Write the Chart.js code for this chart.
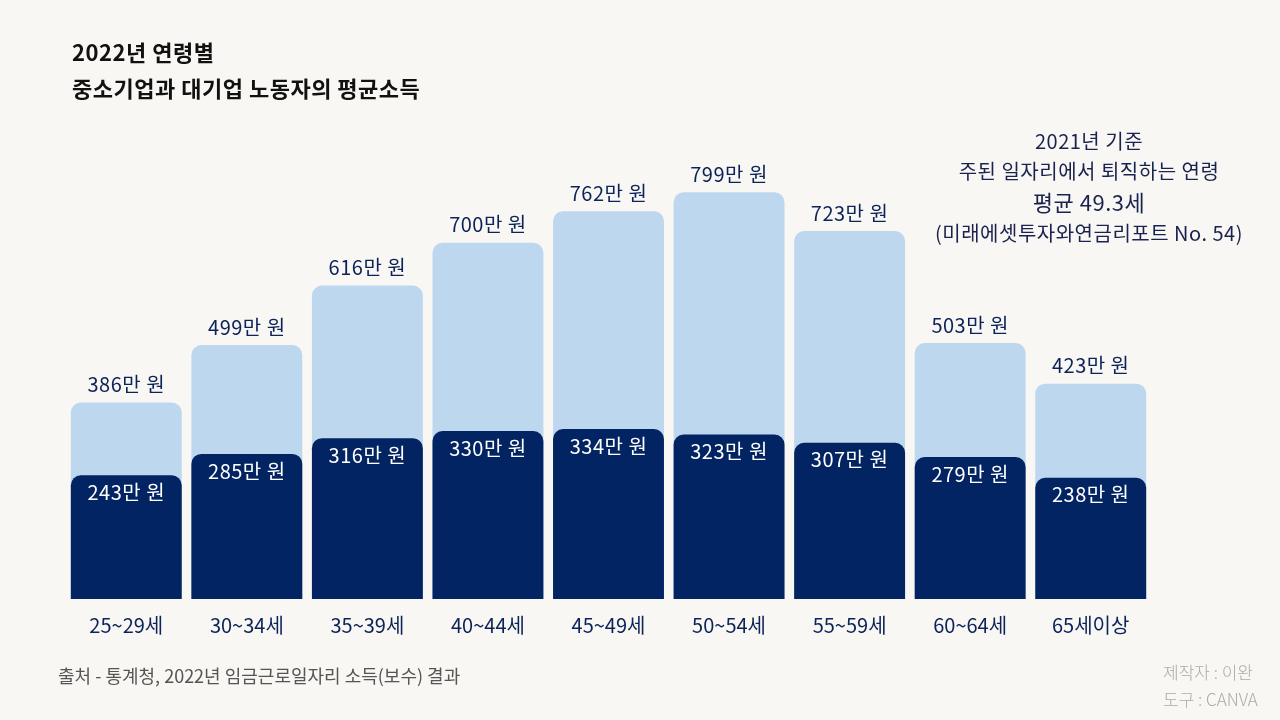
<!DOCTYPE html>
<html>
<head>
<meta charset="utf-8">
<script src="https://cdn.jsdelivr.net/npm/chart.js@4/dist/chart.umd.min.js"></script>
<style>
  html, body { margin: 0; padding: 0; background: #f9f7f3; }
  #wrap { position: relative; width: 1280px; height: 720px; }
</style>
</head>
<body>
<div id="wrap"><canvas id="incomeChart" width="1280" height="720"></canvas></div>
<script>
var ageGroups = ["25~29세", "30~34세", "35~39세", "40~44세", "45~49세", "50~54세", "55~59세", "60~64세", "65세이상"];
var largeFirm = [386, 499, 616, 700, 762, 799, 723, 503, 423];
var smallFirm = [243, 285, 316, 330, 334, 323, 307, 279, 238];
var titleLines = ["2022년 연령별", "중소기업과 대기업 노동자의 평균소득"];
var noteLines = ["2021년 기준", "주된 일자리에서 퇴직하는 연령", "평균 49.3세", "(미래에셋투자와연금리포트 No. 54)"];
var sourceText = "출처 - 통계청, 2022년 임금근로일자리 소득(보수) 결과";
var creditLines = ["제작자 : 이완", "도구 : CANVA"];

var FONT = "'Noto Sans CJK KR', 'Noto Sans', sans-serif";
var NAVY = "#0b2358";

var textPlugin = {
    id: 'textPlugin',
    afterDatasetsDraw: function (chart) {
        var ctx = chart.ctx;
        ctx.save();
        ctx.textBaseline = 'middle';
        ctx.textAlign = 'center';
        ctx.letterSpacing = "0.5px";
        ctx.font = "400 20px " + FONT;
        // values above the light bars
        chart.getDatasetMeta(1).data.forEach(function (bar, i) {
            ctx.fillStyle = NAVY;
            ctx.fillText(largeFirm[i] + "만 원", bar.x, bar.y - 18);
        });
        // values inside the dark bars
        chart.getDatasetMeta(0).data.forEach(function (bar, i) {
            ctx.fillStyle = "#ffffff";
            ctx.fillText(smallFirm[i] + "만 원", bar.x, bar.y + 17);
        });
        ctx.restore();
    },
    afterDraw: function (chart) {
        var ctx = chart.ctx;
        ctx.save();
        ctx.textBaseline = 'middle';
        // title
        ctx.textAlign = 'left';
        ctx.fillStyle = "#111111";
        ctx.font = "700 22px " + FONT;
        ctx.letterSpacing = "0.5px";
        ctx.fillText(titleLines[0], 72, 53);
        ctx.fillText(titleLines[1], 72, 89);
        // note on the right
        ctx.textAlign = 'center';
        ctx.fillStyle = "#1a2350";
        ctx.font = "400 20px " + FONT;
        ctx.fillText(noteLines[0], 1089, 141);
        ctx.fillText(noteLines[1], 1089, 171);
        ctx.font = "400 22px " + FONT;
        ctx.fillText(noteLines[2], 1089, 203);
        ctx.font = "400 20px " + FONT;
        ctx.fillText(noteLines[3], 1089, 233);
        // footer
        ctx.textAlign = 'left';
        ctx.fillStyle = "#555555";
        ctx.letterSpacing = "0px";
        ctx.font = "400 18px " + FONT;
        ctx.fillText(sourceText, 58, 676);
        ctx.fillStyle = "#aaaaaa";
        ctx.font = "300 17px " + FONT;
        ctx.fillText(creditLines[0], 1163, 673);
        ctx.fillText(creditLines[1], 1163, 700);
        ctx.restore();
    }
};

var incomeChart = new Chart(document.getElementById("incomeChart"), {
    type: 'bar',
    data: {
        labels: ageGroups,
        datasets: [{
                label: "중소기업",
                data: smallFirm,
                backgroundColor: "#022462",
                borderRadius: 10,
                borderSkipped: 'start',
                order: 0
            }, {
                label: "대기업",
                data: largeFirm,
                backgroundColor: "#bdd7ef",
                borderRadius: 10,
                borderSkipped: 'start',
                order: 1
            }]
    },
    options: {
        responsive: false,
        animation: false,
        layout: {
            padding: { left: 66, right: 129, top: 90, bottom: 77 }
        },
        datasets: {
            bar: {
                grouped: false,
                categoryPercentage: 1,
                barPercentage: 0.92
            }
        },
        scales: {
            x: {
                grid: { display: false },
                border: { display: false },
                ticks: {
                    color: NAVY,
                    padding: 6,
                    font: { family: FONT, size: 20 }
                }
            },
            y: {
                display: false,
                min: 0,
                max: 1000
            }
        },
        plugins: {
            legend: { display: false },
            tooltip: { enabled: false }
        }
    },
    plugins: [textPlugin]
});
</script>
</body>
</html>
